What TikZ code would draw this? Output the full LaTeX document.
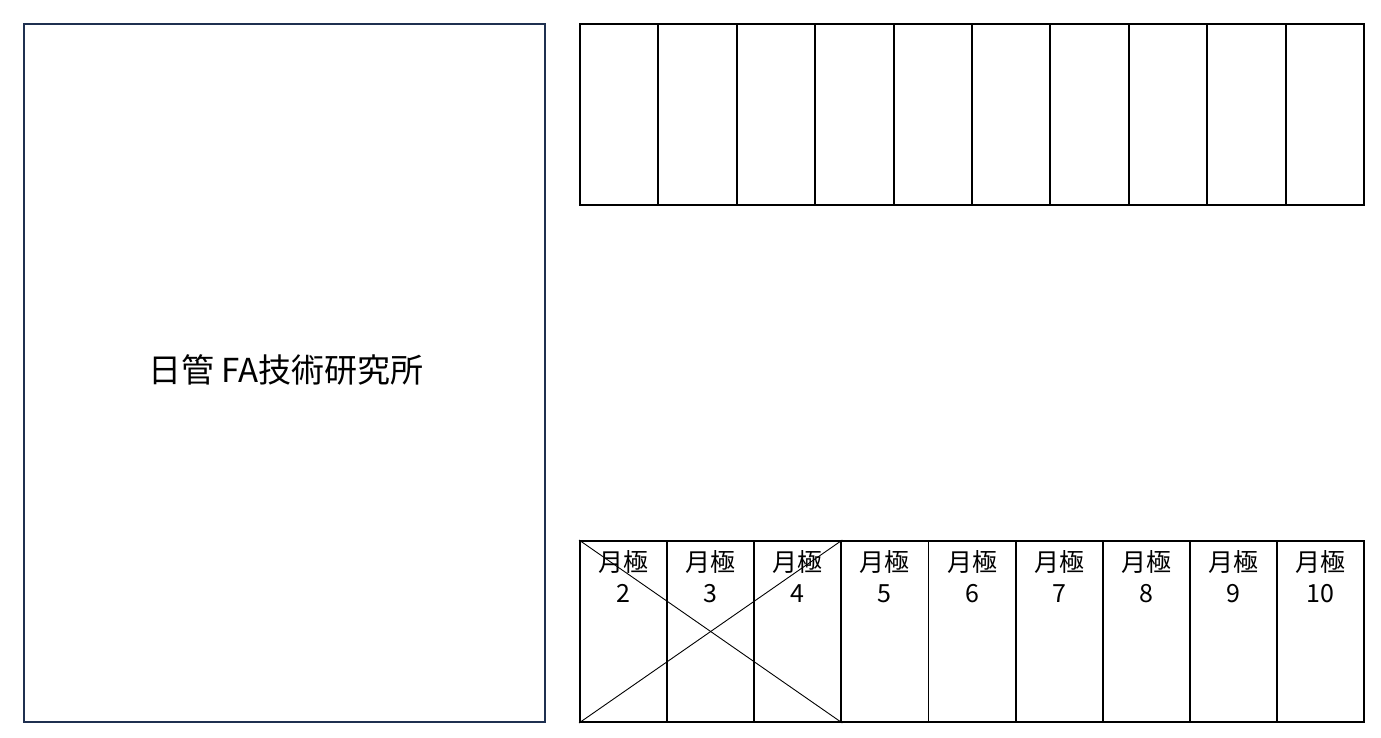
\documentclass[tikz,border=0pt]{standalone}
\usepackage{fontspec}
\setmainfont{Noto Sans CJK JP}
\newfontfamily\jpfont{Noto Sans CJK JP}
\definecolor{navy}{HTML}{1F3050}
\begin{document}
\begin{tikzpicture}[x=1pt,y=-1pt,
  bigbox/.style={draw=navy,line width=2pt,minimum width=521pt,minimum height=698pt,inner sep=0pt},
  topcell/.style={draw=black,line width=1.9pt,minimum width=78.4pt,minimum height=181pt,inner sep=0pt},
  botcell/.style={draw=black,line width=1.9pt,minimum width=87.1pt,minimum height=181pt,inner sep=0pt},
  cell label/.style={font=\jpfont\fontsize{25}{31}\selectfont,align=center,inner sep=0pt,anchor=north},
  crossline/.style={draw=black,line width=0.9pt}]
\useasboundingbox (0,0) rectangle (1381,738);
\fill[white] (0,0) rectangle (1381,738);
\node[bigbox] (big) at (284.5,373) {};
\node[font=\jpfont\fontsize{33}{38}\selectfont] (title) at (286,370) {日管 FA技術研究所};
\foreach \i in {1,...,10}{
  \node[topcell] (t\i) at ({580+78.4*(\i-0.5)},114.5) {};
}
\foreach \i in {2,...,10}{
  \node[botcell] (b\i) at ({580+87.111*(\i-1.5)},631.5) {};
  \node[cell label] (l\i) at ({580+87.111*(\i-1.5)},550) {月極\\\i};
}
\draw[crossline] (b2.north west) -- (b4.south east);
\draw[crossline] (b2.south west) -- (b4.north east);
\end{tikzpicture}
\end{document}
